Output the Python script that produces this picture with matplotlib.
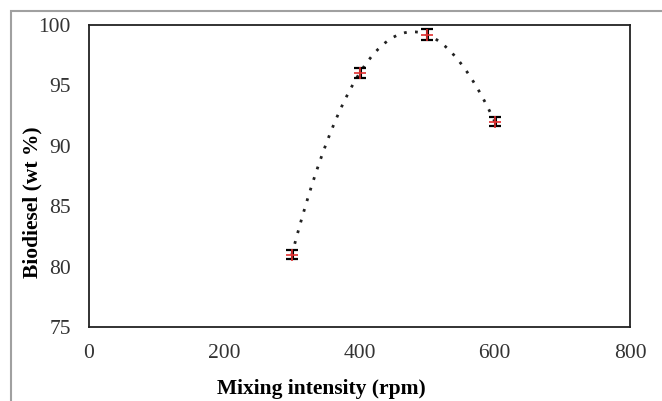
import numpy as np
import matplotlib.pyplot as plt
from matplotlib.patches import Rectangle

plt.rcParams['font.family'] = ['Liberation Serif', 'DejaVu Serif']

## measured points
rpm = np.array([300, 400, 500, 600])
biodiesel = np.array([81.0, 96.0, 99.2, 92.0])
err = np.array([0.4, 0.4, 0.45, 0.4])

x_ticks = [0, 200, 400, 600, 800]
y_ticks = [75, 80, 85, 90, 95, 100]

W, H = 662, 401
fig = plt.figure(figsize=(W/100, H/100), dpi=100)
ax = fig.add_axes([89/W, 1 - 327/H, (630-89)/W, (327-25)/H])

## gray outer frame of the chart area
fig.patches.append(Rectangle((11/W, -0.1), 1.2, 1 - 11/H + 0.1,
                             transform=fig.transFigure, fill=False,
                             edgecolor='#a0a0a0', lw=1.5))

## dotted polynomial trend line through the points
coef = np.polyfit(rpm, biodiesel, 3)
xs = np.linspace(rpm[0], rpm[-1], 300)
ax.plot(xs, np.polyval(coef, xs), color='#222222', ls=(0, (1, 3)), lw=2.0)

ax.errorbar(rpm, biodiesel, yerr=err, fmt='none', ecolor='black',
            elinewidth=2.2, capsize=4, capthick=1.6, zorder=3)
ax.plot(rpm, biodiesel, ls='none', marker='+', ms=9, mew=1.2,
        color='#e03030', zorder=4)

ax.set_xlim(0, 800)
ax.set_ylim(75, 100)
ax.set_xticks(x_ticks)
ax.set_yticks(y_ticks)
ax.tick_params(length=0, labelsize=15.5, colors='#333333')
ax.tick_params(axis='y', pad=13)
ax.tick_params(axis='x', pad=12)
for s in ax.spines.values():
    s.set_linewidth(1.3)
    s.set_color('#222222')

## axis titles, placed like the spreadsheet layout (not centred on the axes)
fig.text(321/W, 1 - 389/H, 'Mixing intensity (rpm)', fontsize=15.5,
         fontweight='bold', ha='center', va='center')
fig.text(32/W, 1 - 202/H, 'Biodiesel (wt %)', fontsize=15.5,
         fontweight='bold', ha='center', va='center', rotation=90)

fig.savefig('out.png', dpi=100)
